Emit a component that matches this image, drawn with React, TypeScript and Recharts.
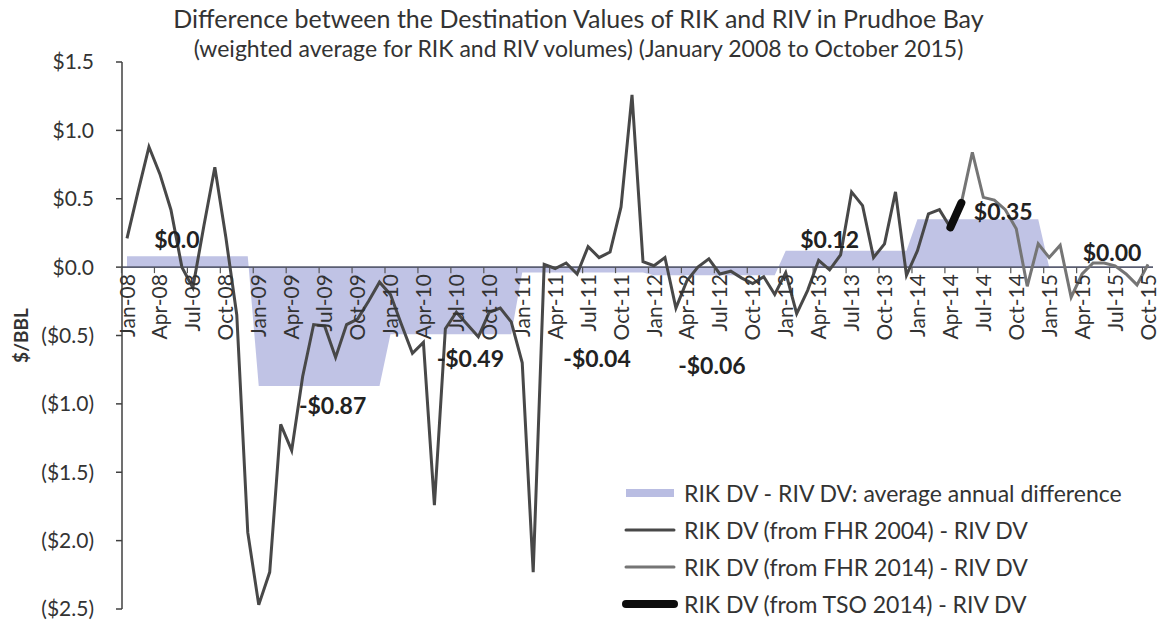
import { Area, ComposedChart, Label, LabelList, Legend, Line, ReferenceLine, XAxis, YAxis } from 'recharts'

const MONTH_NAMES = ['Jan', 'Feb', 'Mar', 'Apr', 'May', 'Jun', 'Jul', 'Aug', 'Sep', 'Oct', 'Nov', 'Dec']
const YEARS = [2008, 2009, 2010, 2011, 2012, 2013, 2014, 2015]
const LAST_MONTH_COUNT = 10 // data stops at Oct-15

// average annual difference (shaded band), one per year
const annualAvg = [0.08, -0.87, -0.49, -0.04, -0.06, 0.12, 0.35, 0.0]
const annualLabels = ['$0.0', '-$0.87', '-$0.49', '-$0.04', '-$0.06', '$0.12', '$0.35', '$0.00']

// RIK DV (from FHR 2004) - RIV DV, Jan-08 .. Apr-14
const fhr2004 = [
  0.21, 0.55, 0.88, 0.68, 0.42, 0.0, -0.15, 0.3, 0.73, 0.22, -0.35, -1.94,
  -2.47, -2.23, -1.15, -1.34, -0.8, -0.42, -0.43, -0.66, -0.42, -0.38, -0.25, -0.11,
  -0.2, -0.42, -0.63, -0.55, -1.74, -0.45, -0.33, -0.42, -0.51, -0.33, -0.3, -0.4,
  -0.7, -2.23, 0.02, -0.01, 0.03, -0.05, 0.15, 0.07, 0.11, 0.44, 1.26, 0.04,
  0.01, 0.07, -0.3, -0.1, 0.0, 0.06, -0.05, -0.03, -0.08, -0.12, -0.07, -0.2,
  -0.04, -0.34, -0.17, 0.05, -0.02, 0.09, 0.55, 0.45, 0.07, 0.17, 0.55, -0.06,
  0.12, 0.39, 0.42, 0.29,
]
// RIK DV (from TSO 2014) - RIV DV, Apr-14 .. May-14
const tso2014 = [0.29, 0.47]
const TSO_START = 75
// RIK DV (from FHR 2014) - RIV DV, May-14 .. Oct-15
const fhr2014 = [0.47, 0.84, 0.51, 0.49, 0.42, 0.28, -0.14, 0.17, 0.07, 0.16, -0.22, -0.05, 0.03, 0.03, 0.01, -0.05, -0.13, 0.02]
const FHR2014_START = 76

const Y_TICKS = [-2.5, -2.0, -1.5, -1.0, -0.5, 0, 0.5, 1.0, 1.5]

const months: string[] = []
YEARS.forEach((y, yi) => {
  const count = yi === YEARS.length - 1 ? LAST_MONTH_COUNT : 12
  for (let m = 0; m < count; m++) months.push(`${MONTH_NAMES[m]}-${String(y).slice(2)}`)
})

const data = months.map((month, i) => ({
  month,
  avg: annualAvg[Math.floor(i / 12)],
  fhr2004: i < fhr2004.length ? fhr2004[i] : null,
  tso: i >= TSO_START && i < TSO_START + tso2014.length ? tso2014[i - TSO_START] : null,
  fhr2014: i >= FHR2014_START ? fhr2014[i - FHR2014_START] : null,
}))

// layout
const W = 1159
const H = 620
const X_AXIS_H = 1
const MARGIN = { top: 62, right: 6, bottom: 11 - X_AXIS_H, left: 0 }
const Y_AXIS_W = 122
const PAD = 5
const PLOT_TOP = MARGIN.top
const PLOT_BOTTOM = H - MARGIN.bottom - X_AXIS_H
const PLOT_LEFT = MARGIN.left + Y_AXIS_W
const PLOT_RIGHT = W - MARGIN.right
const Y_MAX = Y_TICKS[Y_TICKS.length - 1]
const Y_MIN = Y_TICKS[0]
const ZERO_Y = PLOT_TOP + ((PLOT_BOTTOM - PLOT_TOP) * Y_MAX) / (Y_MAX - Y_MIN)
const HALF_STEP = (PLOT_RIGHT - PLOT_LEFT - 2 * PAD) / (months.length - 1) / 2

const FONT = 'Lato, "Open Sans", sans-serif'
const TEXT = '#333'

// which month of each year carries the annual label, and its pixel nudge [dx, dy]
const LABEL_MONTH = [4, 7, 7, 7, 5, 4, 8, 6]
const LABEL_NUDGE = [[6, -17], [-3, 19], [3, 24], [-2, 85], [3, 90], [0, -12], [-2, -8], [-3, -15]]

const fmtY = (v: number) => (v < 0 ? `($${Math.abs(v).toFixed(1)})` : `$${v.toFixed(1)}`)

function MonthTick(props: any) {
  const { x, payload } = props
  const ty = ZERO_Y + 7
  return (
    <g>
      <line x1={x - HALF_STEP} x2={x - HALF_STEP} y1={ZERO_Y} y2={ZERO_Y + 6} stroke="#555" strokeWidth={1.2} />
      <text x={x} y={ty} transform={`rotate(-90 ${x} ${ty})`} textAnchor="end" dy="0.36em" fontSize={21} fill={TEXT}>
        {payload.value}
      </text>
    </g>
  )
}

function AnnualLabel(props: any) {
  const index = props.index
  const x = props.x ?? props.viewBox?.x
  const y = props.y ?? props.viewBox?.y
  if (index == null || x == null || y == null) return null
  const year = Math.floor(index / 12)
  if (index % 12 !== LABEL_MONTH[year]) return null
  const [dx, dy] = LABEL_NUDGE[year]
  return (
    <text x={x + dx} y={y + dy} textAnchor="middle" dominantBaseline="central" fontSize={23} fontWeight={700} fill="#222">
      {annualLabels[year]}
    </text>
  )
}

const LEGEND_ROWS: Record<string, { label: string; kind: 'area' | 'line'; color: string; width: number }> = {
  avg: { label: 'RIK DV - RIV DV: average annual difference', kind: 'area', color: '#b9bde2', width: 8 },
  fhr2004: { label: 'RIK DV (from FHR 2004) - RIV DV', kind: 'line', color: '#484848', width: 3 },
  fhr2014: { label: 'RIK DV (from FHR 2014) - RIV DV', kind: 'line', color: '#757575', width: 3 },
  tso: { label: 'RIK DV (from TSO 2014) - RIV DV', kind: 'line', color: '#0d0d0d', width: 8 },
}

function ChartLegend(props: any) {
  const payload = props.payload || []
  return (
    <div>
      {payload.map((p: any) => {
        const row = LEGEND_ROWS[p.dataKey]
        if (!row) return null
        return (
          <div key={p.dataKey} style={{ display: 'flex', alignItems: 'center', height: 37 }}>
            <svg width={66} height={14}>
              {row.kind === 'area' ? (
                <rect x={8} y={3} width={48} height={row.width} fill={row.color} />
              ) : (
                <line x1={8} x2={56} y1={7} y2={7} stroke={row.color} strokeWidth={row.width} strokeLinecap="round" />
              )}
            </svg>
            <span style={{ fontSize: 23, color: TEXT, whiteSpace: 'nowrap' }}>{row.label}</span>
          </div>
        )
      })}
    </div>
  )
}

export default function App() {
  return (
    <div style={{ position: 'absolute', left: 0, top: 0, width: W, height: H, background: '#fff', fontFamily: FONT }}>
      <div style={{ position: 'absolute', left: 0, top: 3, width: W - 2, textAlign: 'center', fontSize: 25, color: TEXT, lineHeight: '30px' }}>
        Difference between the Destination Values of RIK and RIV in Prudhoe Bay
      </div>
      <div style={{ position: 'absolute', left: 0, top: 34, width: W - 2, textAlign: 'center', fontSize: 23, color: TEXT, lineHeight: '28px' }}>
        (weighted average for RIK and RIV volumes) (January 2008 to October 2015)
      </div>
      <ComposedChart width={W} height={H} data={data} margin={MARGIN} style={{ position: 'absolute', left: 0, top: 0 }}>
        <XAxis
          dataKey="month"
          height={X_AXIS_H}
          interval={2}
          axisLine={false}
          tickLine={false}
          padding={{ left: PAD, right: PAD }}
          tick={<MonthTick />}
        />
        <YAxis
          width={Y_AXIS_W}
          domain={[Y_MIN, Y_MAX]}
          ticks={Y_TICKS}
          interval={0}
          tickFormatter={fmtY}
          tick={{ fontSize: 21, fill: TEXT }}
          tickSize={6}
          tickMargin={22}
          axisLine={{ stroke: '#404040', strokeWidth: 1.5 }}
          tickLine={{ stroke: '#404040', strokeWidth: 1.5 }}
        >
          <Label
            content={(p: any) => {
              const vb = p.viewBox || { y: PLOT_TOP, height: PLOT_BOTTOM - PLOT_TOP }
              const cy = vb.y + vb.height / 2
              return (
                <text x={20} y={cy} transform={`rotate(-90 20 ${cy})`} textAnchor="middle" dominantBaseline="central" fontSize={19} fontWeight={700} fill={TEXT}>
                  $/BBL
                </text>
              )
            }}
          />
        </YAxis>
        <Area
          type="linear"
          dataKey="avg"
          baseValue={0}
          stroke="none"
          fill="#b9bde2"
          fillOpacity={0.9}
          isAnimationActive={false}
        >
          <LabelList dataKey="avg" content={<AnnualLabel />} />
        </Area>
        <ReferenceLine y={0} stroke="#5a5e72" strokeWidth={1.6} />
        <Line type="linear" dataKey="fhr2004" stroke="#484848" strokeWidth={3} dot={false} isAnimationActive={false} />
        <Line type="linear" dataKey="fhr2014" stroke="#757575" strokeWidth={3} dot={false} isAnimationActive={false} />
        <Line type="linear" dataKey="tso" stroke="#0d0d0d" strokeWidth={8} strokeLinecap="round" dot={false} isAnimationActive={false} />
        <Legend
          layout="vertical"
          align="center"
          verticalAlign="middle"
          content={<ChartLegend />}
          wrapperStyle={{ left: 618, top: 474, width: 540 }}
        />
      </ComposedChart>
    </div>
  )
}
